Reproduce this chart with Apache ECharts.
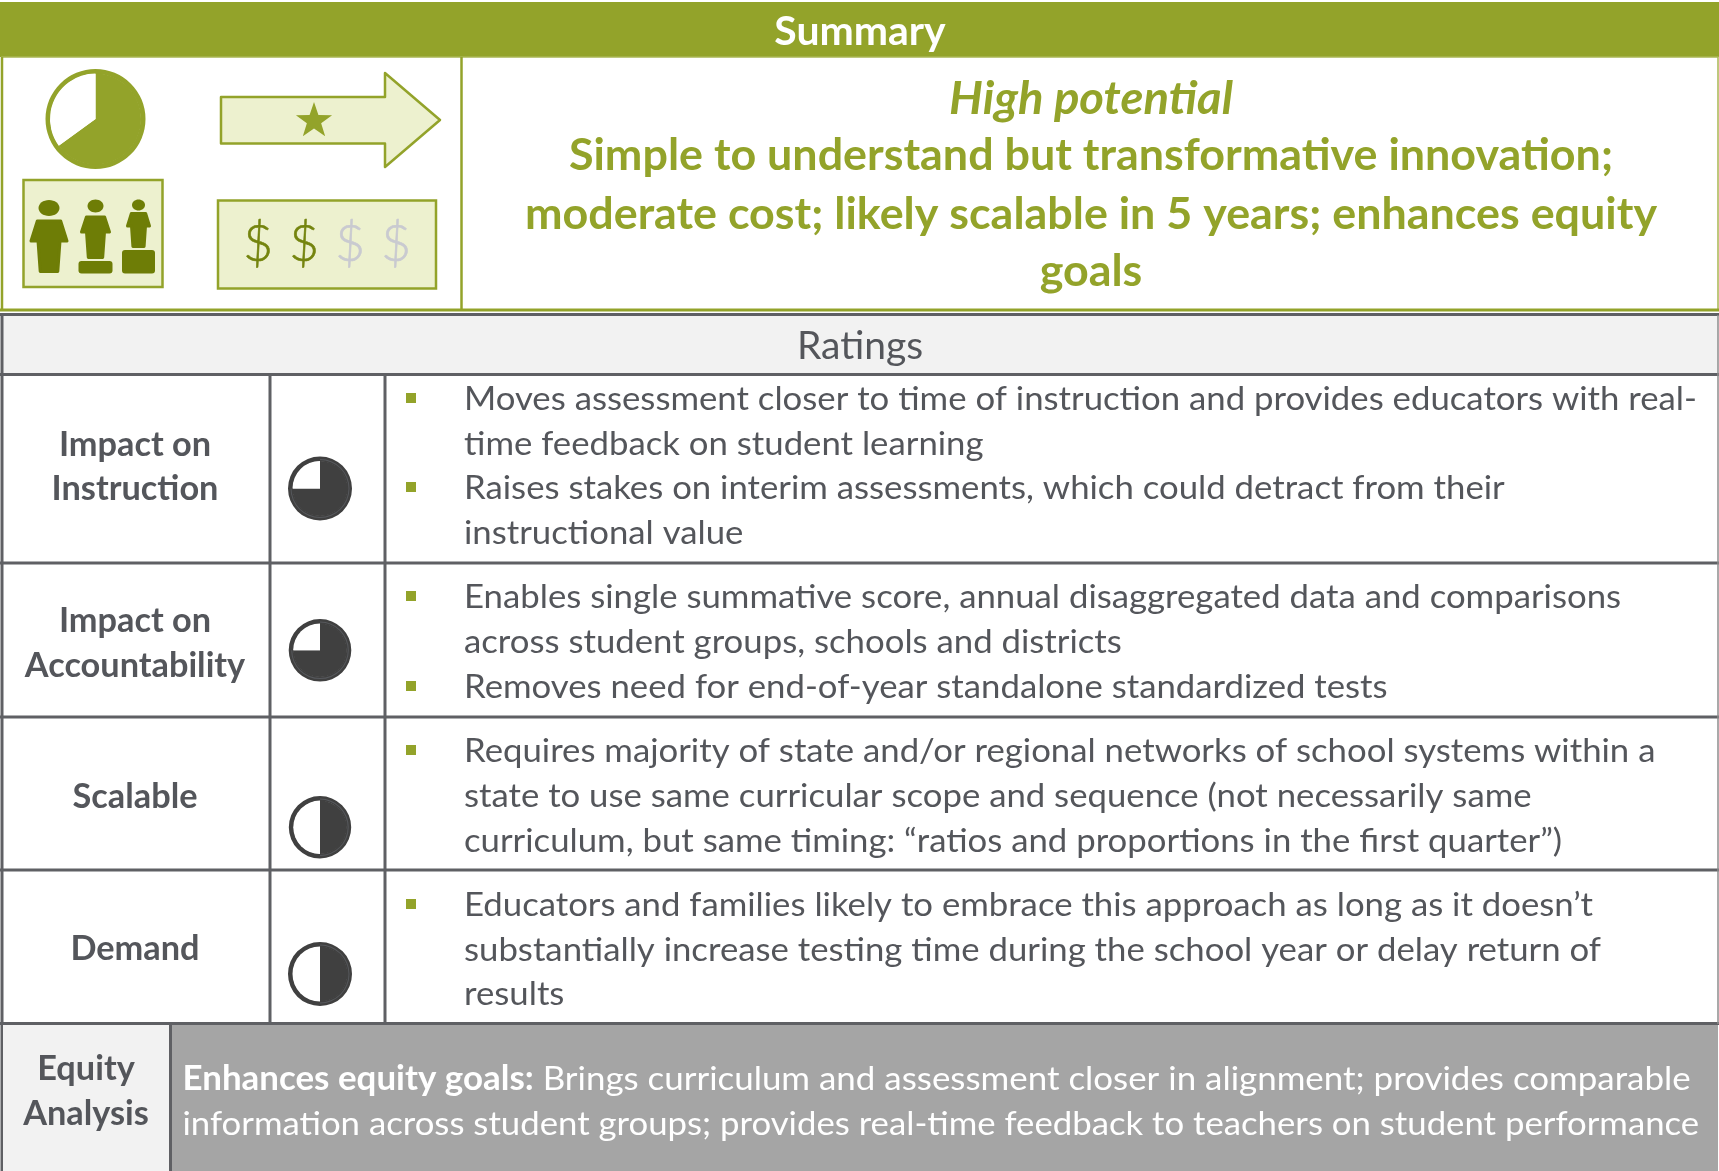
<!DOCTYPE html>
<html>
<head>
<meta charset="utf-8">
<title>Summary</title>
<style>
  html, body { margin: 0; padding: 0; background: #fff; }
  #main { width: 1719px; height: 1171px; }
</style>
<script src="https://cdn.jsdelivr.net/npm/echarts@6/dist/echarts.min.js"></script>
</head>
<body>
<div id="main"></div>
<script>
// 数据
var headerTitle = 'Summary';
var ratingsTitle = 'Ratings';
var summaryLines = [
  'High potential',
  'Simple to understand but transformative innovation;',
  'moderate cost; likely scalable in 5 years; enhances equity',
  'goals'
];
var ratingNames = [['Impact on', 'Instruction'], ['Impact on', 'Accountability'], ['Scalable'], ['Demand']];
var ratingScores = [75, 75, 50, 50];
var summaryScore = 65;
var dollarsTotal = 4;
var dollarsOn = 2;
var ratingNotes = [
  [
    ['Moves assessment closer to time of instruction and provides educators with real-', 'time feedback on student learning'],
    ['Raises stakes on interim assessments, which could detract from their', 'instructional value']
  ],
  [
    ['Enables single summative score, annual disaggregated data and comparisons', 'across student groups, schools and districts'],
    ['Removes need for end-of-year standalone standardized tests']
  ],
  [
    ['Requires majority of state and/or regional networks of school systems within a', 'state to use same curricular scope and sequence (not necessarily same', 'curriculum, but same timing: \u201cratios and proportions in the first quarter\u201d)']
  ],
  [
    ['Educators and families likely to embrace this approach as long as it doesn\u2019t', 'substantially increase testing time during the school year or delay return of', 'results']
  ]
];
var equityLabel = ['Equity', 'Analysis'];
var equityBold = 'Enhances equity goals:';
var equityLines = [
  ' Brings curriculum and assessment closer in alignment; provides comparable',
  'information across student groups; provides real-time feedback to teachers on student performance'
];

// 颜色和字体
var green = '#93a32a';
var paleGreen = '#edf1cf';
var olive = '#6e7d06';
var lineGray = '#5f6064';
var textGray = '#54565b';
var dark = '#404040';
var font = 'Lato';

var myChart = echarts.init(document.querySelector('#main'));
var g = [];

function rect(x, y, w, h, fill, stroke, lw) {
  g.push({ type: 'rect', shape: { x: x, y: y, width: w, height: h },
    style: { fill: fill || 'none', stroke: stroke || 'none', lineWidth: lw || 0 } });
}
function line(x1, y1, x2, y2, color, lw) {
  g.push({ type: 'line', shape: { x1: x1, y1: y1, x2: x2, y2: y2 },
    style: { stroke: color || lineGray, lineWidth: lw || 3 } });
}
function text(str, x, y, size, color, opts) {
  opts = opts || {};
  g.push({ type: 'text', x: x, y: y, scaleX: opts.sx || 1, originX: 0,
    style: { text: str, fontFamily: font, fontSize: size, fill: color,
      fontWeight: opts.weight || 'normal', fontStyle: opts.style || 'normal',
      stroke: opts.stroke, lineWidth: opts.stroke ? 0.6 : 0,
      align: opts.align || 'left', verticalAlign: 'middle', rich: opts.rich } });
}
function poly(points, fill, stroke, lw) {
  g.push({ type: 'polygon', shape: { points: points },
    style: { fill: fill, stroke: stroke || 'none', lineWidth: lw || 0, lineJoin: 'round' } });
}

// 顶部标题和摘要
rect(0, 2, 1719, 55, green);
text(headerTitle, 860, 32, 39.5, '#fff', { weight: 'bold', align: 'center', sx: 1.036 });
rect(2, 57, 1716, 253, '#fff', '#a9b653', 1.5);
line(2, 57, 2, 310, green, 2.5);
line(0, 310, 1719, 310, green, 3);
line(461.5, 57, 461.5, 310, green, 2.5);
var summaryY = [99, 156, 215, 272];
summaryLines.forEach(function (s, i) {
  if (i === 0) {
    text(s, 1091, summaryY[i], 45, green, { weight: 'bold', style: 'italic', align: 'center', sx: 1.05 });
  } else {
    text(s, 1091, summaryY[i], 43, green, { weight: 'bold', align: 'center', sx: 1.043 });
  }
});

// 箭头和星星
poly([[221, 97], [385, 97], [385, 73], [440, 120], [385, 167], [385, 143.5], [221, 143.5]], paleGreen, green, 2.5);
var star = [];
for (var k = 0; k < 10; k++) {
  var r = k % 2 ? 7.5 : 19;
  var a = -Math.PI / 2 + k * Math.PI / 5;
  star.push([314 + r * Math.cos(a), 121 + r * Math.sin(a)]);
}
poly(star, green);

// 三个人
rect(23.5, 180, 139, 107, paleGreen, green, 2.5);
function person(cx, head, rx, ry, top, halfS, shoulderY, halfL, bottom) {
  g.push({ type: 'ellipse', shape: { cx: cx, cy: head, rx: rx, ry: ry }, style: { fill: olive } });
  poly([[cx - halfS * 0.65, top], [cx + halfS * 0.65, top], [cx + halfS, shoulderY], [cx + halfL, shoulderY],
    [cx + halfL * 0.8, bottom], [cx - halfL * 0.8, bottom], [cx - halfL, shoulderY], [cx - halfS, shoulderY]], olive, olive, 3);
}
person(49, 208, 10.5, 8, 221, 18, 241, 11, 271.5);
person(95.5, 206, 8, 6.5, 217, 14, 232, 9, 257.5);
person(138.5, 205, 6.5, 5.5, 213.5, 11, 226, 7, 246.5);
g.push({ type: 'rect', shape: { x: 78.5, y: 261, width: 34, height: 12.5, r: 3 }, style: { fill: olive } });
g.push({ type: 'rect', shape: { x: 122, y: 250, width: 33, height: 23.5, r: 3 }, style: { fill: olive } });

// 美元符号
rect(218, 200.5, 218, 88, paleGreen, green, 2.5);
for (var d = 0; d < dollarsTotal; d++) {
  var dollarColor = d < dollarsOn ? '#74840e' : '#c9cad0';
  text('$', 258 + d * 46, 244, 52, dollarColor, { weight: 300, align: 'center', stroke: dollarColor });
}

// Ratings 表格
rect(3, 315, 1715, 60, '#f2f2f2');
line(0, 314.5, 1719, 314.5);
text(ratingsTitle, 860, 346.5, 38, textGray, { align: 'center', sx: 1.026 });
var rowLines = [374.5, 563, 717, 870, 1023.5];
var nameY = [[445.5, 489], [621.5, 666], [797.5], [949.5]];
var noteY = [[[399.5, 444.5], [488.5, 533.5]], [[597.5, 642.5], [687.5]], [[751.5, 796.5, 841.5]], [[905.5, 950.5, 994.5]]];
var bulletY = [[398, 487], [596, 686], [750], [904]];
var ballY = [488.5, 650.3, 827.3, 974];
var ballR = [32, 31.3, 31.2, 32];
rowLines.forEach(function (y) { line(0, y, 1719, y); });
line(2, 315, 2, 1171);
line(1718, 315, 1718, 1024, '#8c8c8c', 1.5);
line(270, 375, 270, 1024);
line(385, 375, 385, 1024);
ratingNames.forEach(function (names, i) {
  names.forEach(function (s, j) {
    text(s, 135, nameY[i][j], 33.5, textGray, { weight: 'bold', align: 'center', sx: 1.024 });
  });
  ratingNotes[i].forEach(function (bullet, j) {
    rect(406, bulletY[i][j] - 5, 10, 10, green);
    bullet.forEach(function (s, n) {
      text(s, 464, noteY[i][j][n], 33.5, textGray, { sx: 1.037 });
    });
  });
});

// Equity 部分
rect(3, 1025, 168, 146, '#f2f2f2');
rect(172, 1025, 1546, 146, '#a5a5a5');
line(170.5, 1024, 170.5, 1171);
text(equityLabel[0], 86, 1069.5, 33.5, textGray, { weight: 'bold', align: 'center', sx: 1.024 });
text(equityLabel[1], 86, 1114.5, 33.5, textGray, { weight: 'bold', align: 'center', sx: 1.024 });
text('{b|' + equityBold + '}' + equityLines[0], 182.5, 1079, 33.5, '#fff', {
  sx: 1.042,
  rich: { b: { fontFamily: font, fontSize: 33.5, fontWeight: 'bold', color: '#fff' } }
});
text(equityLines[1], 182.5, 1124, 33.5, '#fff', { sx: 1.037 });

// Harvey 球
function ball(value, cx, cy, R, color, ring, glow) {
  var center = [cx, cy];
  var list = [{
    type: 'pie', center: center, radius: [R - ring, R], silent: true, startAngle: 90,
    label: { show: false }, labelLine: { show: false }, animation: false,
    data: [{ value: 100, itemStyle: { color: color } }]
  }, {
    type: 'pie', center: center, radius: [0, R - ring + 0.5], silent: true, startAngle: 90, clockwise: true,
    label: { show: false }, labelLine: { show: false }, animation: false,
    data: [
      { value: value, itemStyle: { color: color } },
      { value: 100 - value, itemStyle: { color: '#fff' } }
    ]
  }];
  if (glow) {
    // 实心部分里那圈浅色细线
    list.push({
      type: 'pie', center: center, radius: [R - 3.5, R - 2.5], silent: true, startAngle: 90, z: 3,
      label: { show: false }, labelLine: { show: false }, animation: false,
      data: [
        { value: value, itemStyle: { color: glow } },
        { value: 100 - value, itemStyle: { color: 'transparent' } }
      ]
    });
  }
  return list;
}
var series = ball(summaryScore, 95.5, 119, 50, green, 5);
ratingScores.forEach(function (v, i) {
  series = series.concat(ball(v, 320, ballY[i], ballR[i], dark, 5, '#56585c'));
});

var option = {
  backgroundColor: '#fff',
  animation: false,
  series: series,
  graphic: { elements: g }
};
myChart.setOption(option);
window.addEventListener('resize', function () {
  myChart.resize();
});
</script>
</body>
</html>
